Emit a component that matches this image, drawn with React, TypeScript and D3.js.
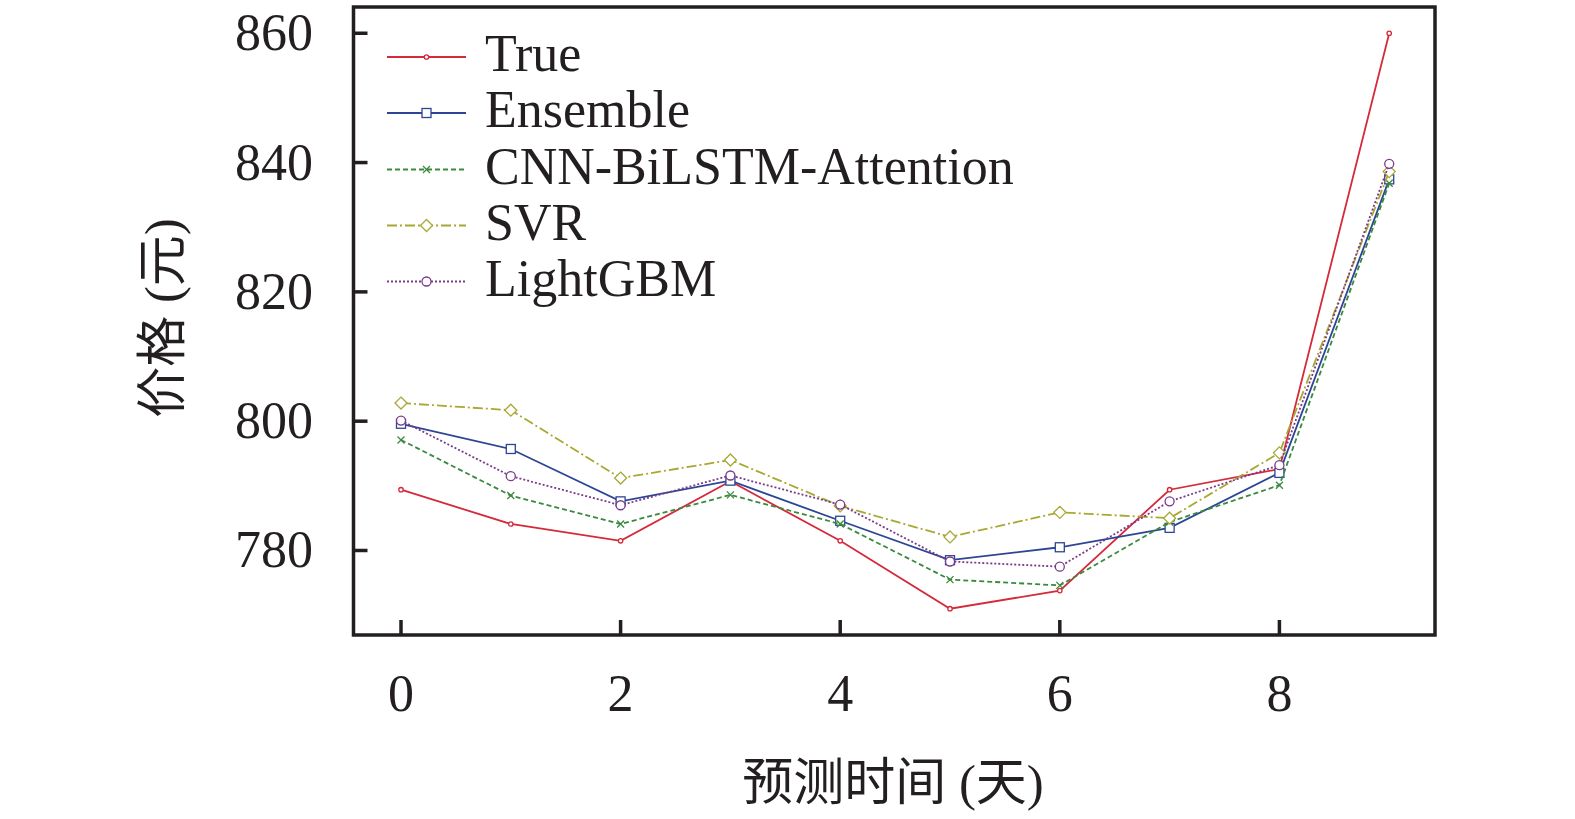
import React from "react";
import * as d3 from "d3";

const days = [0, 1, 2, 3, 4, 5, 6, 7, 8, 9];
const trueVals = [789.4, 784.1, 781.5, 790.7, 781.5, 771.0, 773.8, 789.4, 792.6, 860.0];
const ensembleVals = [799.6, 795.7, 787.6, 790.8, 784.6, 778.5, 780.5, 783.5, 792.0, 837.4];
const cnnVals = [797.1, 788.5, 784.1, 788.6, 784.1, 775.5, 774.6, 784.4, 790.1, 836.8];
const svrVals = [802.8, 801.7, 791.2, 794.0, 786.9, 782.1, 785.9, 785.0, 795.1, 838.6];
const lgbmVals = [800.1, 791.5, 787.0, 791.6, 787.1, 778.3, 777.5, 787.6, 793.2, 839.8];

const xTicks = [0, 2, 4, 6, 8];
const yTicks = [780, 800, 820, 840, 860];

type Series = {
  name: string;
  values: number[];
  color: string;
  dash: string;
  marker: "dot" | "square" | "x" | "diamond" | "circle";
};

const series: Series[] = [
  { name: "True", values: trueVals, color: "#d42a3a", dash: "none", marker: "dot" },
  { name: "Ensemble", values: ensembleVals, color: "#2d4694", dash: "none", marker: "square" },
  { name: "CNN-BiLSTM-Attention", values: cnnVals, color: "#3a8a3e", dash: "5,3", marker: "x" },
  { name: "SVR", values: svrVals, color: "#a8a832", dash: "10,3,2,3", marker: "diamond" },
  { name: "LightGBM", values: lgbmVals, color: "#7b3a8a", dash: "2,2", marker: "circle" },
];

const FONT = '"Liberation Serif", "Times New Roman", "Noto Sans CJK SC", serif';

const left = 353.5, right = 1435, top = 7, bottom = 635;

function Marker({ kind, x, y, color }: { kind: Series["marker"]; x: number; y: number; color: string }) {
  const sw = 1.3;
  switch (kind) {
    case "dot":
      return <circle cx={x} cy={y} r={2.2} fill="white" stroke={color} strokeWidth={sw} />;
    case "square":
      return <rect x={x - 4.5} y={y - 4.5} width={9} height={9} fill="white" stroke={color} strokeWidth={sw} />;
    case "x":
      return (
        <path d={`M${x - 3.5},${y - 3.5}L${x + 3.5},${y + 3.5}M${x - 3.5},${y + 3.5}L${x + 3.5},${y - 3.5}`} stroke={color} strokeWidth={sw} fill="none" />
      );
    case "diamond":
      return <path d={`M${x},${y - 6}L${x + 6},${y}L${x},${y + 6}L${x - 6},${y}Z`} fill="white" stroke={color} strokeWidth={sw} />;
    case "circle":
      return <circle cx={x} cy={y} r={4.5} fill="white" stroke={color} strokeWidth={sw} />;
  }
}

export default function App() {
  const x = d3.scaleLinear().domain([-0.4326, 9.417]).range([left, right]);
  const y = d3.scaleLinear().domain([766.93, 864.06]).range([bottom, top]);
  const line = d3
    .line<number>()
    .x((_, i) => x(days[i]))
    .y((v) => y(v));

  const legendY = [57, 113, 169.5, 225.5, 281.5];

  return (
    <svg width={1575} height={819} style={{ position: "absolute", left: 0, top: 0 }} fontFamily={FONT}>
      <rect x={0} y={0} width={1575} height={819} fill="white" />
      {series.map((s) => (
        <g key={s.name}>
          <path d={line(s.values) || ""} fill="none" stroke={s.color} strokeWidth={1.8} strokeDasharray={s.dash} />
          {s.values.map((v, i) => (
            <Marker key={i} kind={s.marker} x={x(days[i])} y={y(v)} color={s.color} />
          ))}
        </g>
      ))}
      <rect x={left} y={top} width={right - left} height={bottom - top} fill="none" stroke="#231f20" strokeWidth={3.5} />
      {xTicks.map((t) => (
        <g key={"x" + t}>
          <line x1={x(t)} x2={x(t)} y1={bottom} y2={bottom - 15} stroke="#231f20" strokeWidth={3.5} />
          <text x={x(t)} y={711} fontSize={52} textAnchor="middle" fill="#231f20">
            {t}
          </text>
        </g>
      ))}
      {yTicks.map((t) => (
        <g key={"y" + t}>
          <line x1={left} x2={left + 14} y1={y(t)} y2={y(t)} stroke="#231f20" strokeWidth={3.5} />
          <text x={313} y={y(t) + 17} fontSize={52} textAnchor="end" fill="#231f20">
            {t}
          </text>
        </g>
      ))}
      <text x={893} y={800} fontSize={51} textAnchor="middle" fill="#231f20">
        预测时间 (天)
      </text>
      <text transform="translate(180,318) rotate(-90)" fontSize={51} textAnchor="middle" fill="#231f20">
        价格 (元)
      </text>
      {series.map((s, i) => (
        <g key={"lg" + s.name}>
          <line x1={387} x2={466} y1={legendY[i]} y2={legendY[i]} stroke={s.color} strokeWidth={1.8} strokeDasharray={s.dash} />
          <Marker kind={s.marker} x={426.5} y={legendY[i]} color={s.color} />
          <text x={485} y={legendY[i] + 14} fontSize={52} fill="#231f20">
            {s.name}
          </text>
        </g>
      ))}
    </svg>
  );
}
